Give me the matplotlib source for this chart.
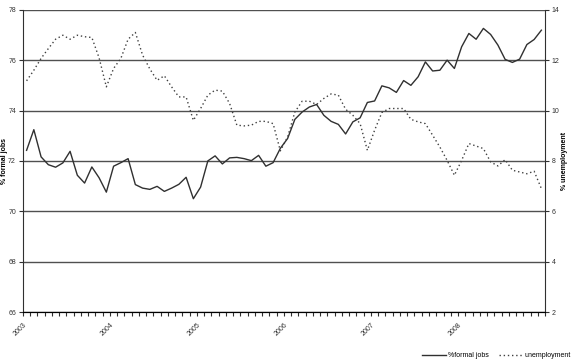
import numpy as np
import matplotlib
matplotlib.use("Agg")
import matplotlib.pyplot as plt
from matplotlib.ticker import FixedLocator, NullFormatter

plt.rcParams['font.family'] = ['Liberation Sans', 'DejaVu Sans']

# monthly series, Jan 2003 - Dec 2008
years = ["2003", "2004", "2005", "2006", "2007", "2008"]

formal_jobs = [
    72.42, 73.24, 72.16, 71.85, 71.75, 71.92, 72.38, 71.43, 71.12, 71.76, 71.33, 70.76,
    71.79, 71.93, 72.09, 71.06, 70.92, 70.87, 70.99, 70.79, 70.92, 71.07, 71.35, 70.50,
    70.96, 72.00, 72.20, 71.88, 72.12, 72.14, 72.09, 72.01, 72.22, 71.79, 71.93, 72.50,
    72.89, 73.65, 73.94, 74.14, 74.24, 73.81, 73.57, 73.45, 73.07, 73.55, 73.71, 74.32,
    74.38, 74.98, 74.90, 74.72, 75.19, 75.00, 75.34, 75.93, 75.57, 75.60, 76.00, 75.67,
    76.53, 77.06, 76.83, 77.26, 77.02, 76.60, 76.03, 75.91, 76.04, 76.62, 76.82, 77.19,
]

unemployment = [
    11.18, 11.60, 12.07, 12.46, 12.83, 12.99, 12.83, 12.99, 12.93, 12.90, 12.09, 10.94,
    11.67, 12.07, 12.83, 13.10, 12.20, 11.65, 11.20, 11.38, 10.94, 10.54, 10.54, 9.61,
    10.08, 10.61, 10.81, 10.77, 10.28, 9.42, 9.39, 9.42, 9.57, 9.57, 9.48, 8.40,
    8.95, 9.94, 10.37, 10.37, 10.24, 10.48, 10.66, 10.61, 10.05, 9.81, 9.48, 8.42,
    9.22, 9.92, 10.08, 10.08, 10.08, 9.65, 9.55, 9.48, 9.02, 8.55, 8.02, 7.43,
    8.02, 8.69, 8.59, 8.49, 7.96, 7.80, 8.05, 7.63, 7.56, 7.49, 7.59, 6.90,
]

n = len(formal_jobs)
x = np.arange(n) + 0.5  # points sit between the month ticks

fig = plt.figure(figsize=(5.74, 3.62), dpi=100)
ax = fig.add_axes([0.040, 0.138, 0.9095, 0.835])
ax2 = ax.twinx()

line1, = ax.plot(x, formal_jobs, color='#303030', lw=1.0, label='%formal jobs')
line2, = ax2.plot(x, unemployment, color='#404040', lw=1.0,
                  linestyle=(0, (1, 2)), label='unemployment')

ax.set_xlim(0, n)
ax.set_ylim(66, 78)
ax2.set_ylim(2, 14)
ax.set_yticks(np.arange(66, 79, 2))
ax2.set_yticks(np.arange(2, 15, 2))

# horizontal gridlines
ax.grid(axis='y', color='#505050', lw=1.0)
ax.set_axisbelow(True)

# year labels on major ticks, a tick for every month
ax.xaxis.set_major_locator(FixedLocator(np.arange(0, n, 12)))
ax.set_xticklabels(years, rotation=45, ha='right', va='top', rotation_mode='anchor')
ax.xaxis.set_minor_locator(FixedLocator(np.arange(0, n + 1)))
ax.xaxis.set_minor_formatter(NullFormatter())

for a in (ax, ax2):
    a.spines['top'].set_visible(False)
    a.tick_params(which='both', length=3, width=0.8, labelsize=5, colors='#303030', pad=2)
ax.spines['right'].set_visible(False)
ax2.spines['left'].set_visible(False)
ax2.spines['right'].set_color('#303030')
ax.spines['left'].set_color('#303030')
ax.spines['bottom'].set_color('#303030')
ax.tick_params(axis='x', which='both', length=3, pad=4)

ax.set_ylabel('% formal jobs', fontsize=5, fontweight='bold')
ax.yaxis.set_label_coords(-0.029, 0.5)
ax2.set_ylabel('% unemployment', fontsize=5, fontweight='bold')
ax2.yaxis.set_label_coords(1.031, 0.5)

fig.legend(handles=[line1, line2], loc='center right', bbox_to_anchor=(0.995, 0.017),
           ncol=2, frameon=False, fontsize=5, handlelength=3.5, handletextpad=0.25,
           columnspacing=1.4, borderaxespad=0, borderpad=0)

fig.savefig('out.png', dpi=100)
